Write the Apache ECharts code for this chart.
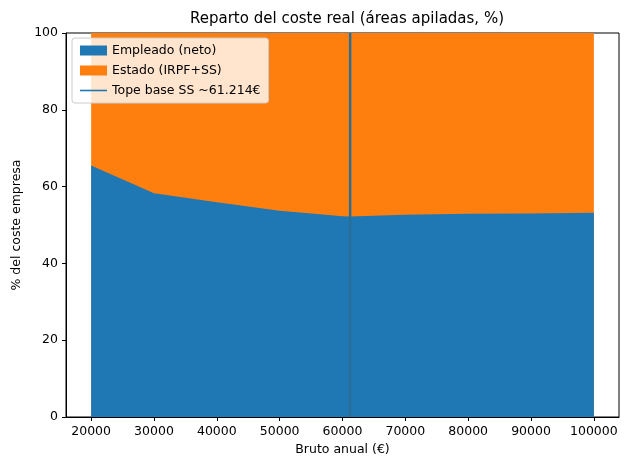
<!DOCTYPE html>
<html>
<head>
<meta charset="utf-8">
<script src="https://cdn.jsdelivr.net/npm/echarts@6/dist/echarts.min.js"></script>
<style>html,body{margin:0;padding:0;background:#fff}#chart{width:627px;height:470px}</style>
</head>
<body>
<div id="chart"></div>
<script>
// bruto anual y % del coste empresa que recibe el empleado
const brutos = [20000, 30000, 40000, 50000, 60000, 61214, 70000, 80000, 90000, 100000];
const empleado = [65.5, 58.3, 55.9, 53.7, 52.3, 52.2, 52.7, 52.9, 53.0, 53.2];
const estado = empleado.map(v => 100 - v);
const topeSS = 61214;
const xTicks = [20000, 30000, 40000, 50000, 60000, 70000, 80000, 90000, 100000];

const chart = echarts.init(document.getElementById('chart'));
const font = 'DejaVu Sans';
chart.setOption({
  animation: false,
  textStyle: {fontFamily: font},
  title: {
    text: 'Reparto del coste real (áreas apiladas, %)',
    left: 342, top: 7, textAlign: 'center',
    textStyle: {fontSize: 15, fontWeight: 'normal', color: '#000', fontFamily: font}
  },
  legend: {
    left: 72, top: 38, orient: 'vertical', itemGap: 7,
    itemWidth: 27, itemHeight: 10,
    backgroundColor: 'rgba(255,255,255,0.8)', borderColor: '#ccc', borderWidth: 1,
    borderRadius: 3, padding: [6, 8],
    textStyle: {fontSize: 12.5, color: '#000', fontFamily: font},
    data: [
      {name: 'Empleado (neto)', icon: 'rect'},
      {name: 'Estado (IRPF+SS)', icon: 'rect'},
      {name: 'Tope base SS ~61.214€', icon: 'path://M0,4.2H27V5.8H0Z'}
    ]
  },
  grid: {left: 66, right: 8, top: 33, bottom: 53, show: true, borderColor: '#000', borderWidth: 1, backgroundColor: 'transparent'},
  xAxis: {
    type: 'value', min: 16000, max: 104000,
    name: 'Bruto anual (€)', nameLocation: 'middle', nameGap: 26,
    nameTextStyle: {fontSize: 12.5, color: '#000'},
    axisLine: {lineStyle: {color: '#000'}},
    axisTick: {customValues: xTicks, length: 4, lineStyle: {color: '#000'}},
    axisLabel: {customValues: xTicks, fontSize: 12.5, color: '#000', formatter: v => String(v)},
    splitLine: {show: false}
  },
  yAxis: {
    type: 'value', min: 0, max: 100, interval: 20,
    name: '% del coste empresa', nameLocation: 'middle', nameGap: 36,
    nameTextStyle: {fontSize: 12.5, color: '#000'},
    axisLine: {show: true, lineStyle: {color: '#000'}},
    axisTick: {show: true, length: 4, lineStyle: {color: '#000'}},
    axisLabel: {fontSize: 12.5, color: '#000'},
    splitLine: {show: false}
  },
  series: [
    {
      // capa naranja: empleado + estado (llega a 100)
      name: 'Estado (IRPF+SS)', type: 'line', symbol: 'none', z: 2,
      data: brutos.map((x, i) => [x, empleado[i] + estado[i]]),
      lineStyle: {width: 0}, itemStyle: {color: '#ff7f0e'},
      areaStyle: {color: '#ff7f0e', opacity: 1}
    },
    {
      name: 'Empleado (neto)', type: 'line', symbol: 'none', z: 3,
      data: brutos.map((x, i) => [x, empleado[i]]),
      lineStyle: {width: 0}, itemStyle: {color: '#1f77b4'},
      areaStyle: {color: '#1f77b4', opacity: 1}
    },
    {
      name: 'Tope base SS ~61.214€', type: 'line', symbol: 'none', z: 5,
      data: [[topeSS, 0], [topeSS, 100]],
      lineStyle: {width: 2.5, color: '#2a6f97'}, itemStyle: {color: '#1f77b4'}
    }
  ]
});
</script>
</body>
</html>
